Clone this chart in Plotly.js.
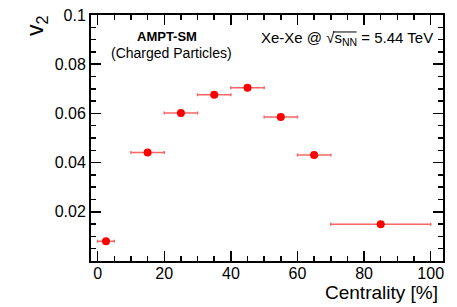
<!DOCTYPE html>
<html>
<head>
<meta charset="utf-8">
<script src="https://cdn.plot.ly/plotly-3.0.1.min.js"></script>
<style>
html,body{margin:0;padding:0;background:#fff;}
#chart{width:457px;height:307px;}
</style>
</head>
<body>
<div id="chart"></div>
<script>
// Data
var centrality = [2.5, 15, 25, 35, 45, 55, 65, 85];
var centralityErr = [2.5, 5, 5, 5, 5, 5, 5, 15];
var v2 = [0.0080, 0.0441, 0.0602, 0.0676, 0.0704, 0.0585, 0.0431, 0.0149];
var xTickVals = [0, 20, 40, 60, 80, 100];
var yTickVals = [0.02, 0.04, 0.06, 0.08, 0.1];
var yTickText = ['0.02', '0.04', '0.06', '0.08', '0.1'];

var FONT = 'Liberation Sans, Arial, Helvetica, sans-serif';

var trace = {
  x: centrality,
  y: v2,
  type: 'scatter',
  mode: 'markers',
  marker: {color: '#ff0000', size: 8, symbol: 'circle'},
  error_x: {type: 'data', array: centralityErr, visible: true,
            color: 'rgba(255,0,0,0.6)', thickness: 1.5, width: 1.5},
  showlegend: false,
  hoverinfo: 'skip'
};

var axisCommon = {
  showline: true, linecolor: '#000', linewidth: 2, mirror: 'ticks',
  ticks: 'inside', ticklen: 10, tickwidth: 1.5, tickcolor: '#000',
  showgrid: false, zeroline: false,
  tickfont: {family: FONT, size: 16, color: '#000'}
};

var layout = {
  width: 457, height: 307,
  margin: {l: 91, r: 14, t: 15, b: 46, pad: 0},
  paper_bgcolor: '#fff', plot_bgcolor: '#fff',
  font: {family: FONT, color: '#000'},
  xaxis: Object.assign({}, axisCommon, {
    range: [-2, 103.7],
    tickmode: 'array', tickvals: xTickVals,
    ticklabelstandoff: -3,
    minor: {dtick: 5, ticklen: 5, tickwidth: 1.5, tickcolor: '#000', ticks: 'inside', showgrid: false}
  }),
  yaxis: Object.assign({}, axisCommon, {
    range: [0, 0.1],
    tickmode: 'array', tickvals: yTickVals, ticktext: yTickText,
    minor: {dtick: 0.005, ticklen: 5, tickwidth: 1.5, tickcolor: '#000', ticks: 'inside', showgrid: false}
  }),
  shapes: [
    // overline of the square-root sign in the energy label
    {type: 'line', xref: 'paper', yref: 'paper',
     x0: 0.6875, x1: 0.7545, y0: 0.931, y1: 0.931,
     line: {color: '#000', width: 1}}
  ],
  annotations: [
    {xref: 'paper', yref: 'paper', x: -0.155, y: 1.008, xanchor: 'center', yanchor: 'top',
     text: 'v<sub>2</sub>', textangle: -90, showarrow: false,
     font: {family: FONT, size: 23, color: '#000'}},
    {xref: 'paper', yref: 'paper', x: 0.991, y: -0.128, xanchor: 'right', yanchor: 'middle',
     text: 'Centrality [%]', showarrow: false,
     font: {family: FONT, size: 19, color: '#000'}},
    {xref: 'paper', yref: 'paper', x: 0.2173, y: 0.912, xanchor: 'center', yanchor: 'middle',
     text: '<b>AMPT-SM</b>', showarrow: false,
     font: {family: FONT, size: 13, color: '#000'}},
    {xref: 'paper', yref: 'paper', x: 0.2287, y: 0.846, xanchor: 'center', yanchor: 'middle',
     text: '(Charged Particles)', showarrow: false,
     font: {family: FONT, size: 14, color: '#000'}},
    {xref: 'paper', yref: 'paper', x: 0.977, y: 0.905, xanchor: 'right', yanchor: 'middle',
     text: 'Xe-Xe @ √s<sub>NN</sub> = 5.44 TeV', showarrow: false,
     font: {family: FONT, size: 15, color: '#000'}}
  ]
};

Plotly.newPlot('chart', [trace], layout, {staticPlot: true, displayModeBar: false});
</script>
</body>
</html>
